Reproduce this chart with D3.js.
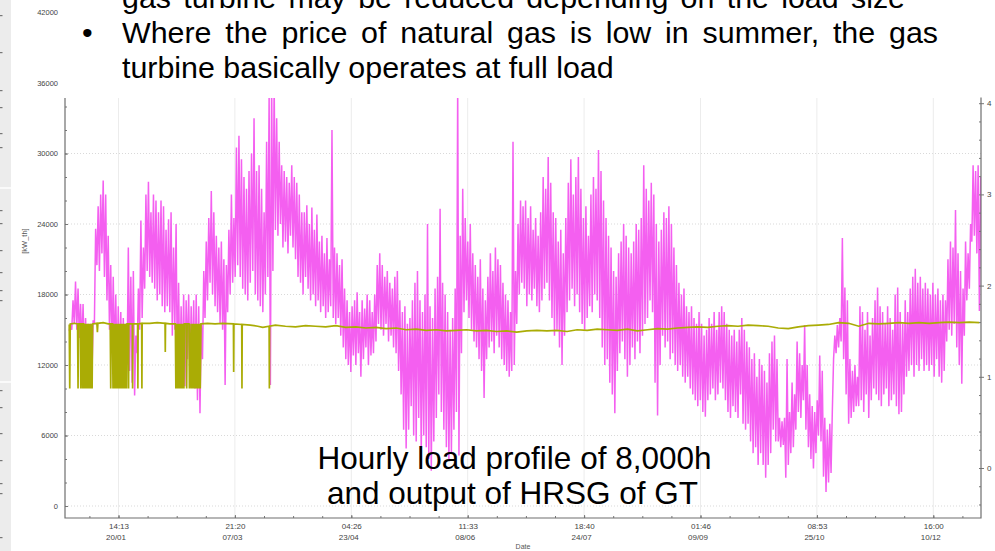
<!DOCTYPE html>
<html>
<head>
<meta charset="utf-8">
<script src="https://cdn.jsdelivr.net/npm/d3@7"></script>
<style>
  html, body { margin:0; padding:0; background:#fff; }
  svg { display:block; }
  .axis text { font-family:"Liberation Sans", Arial, sans-serif; fill:#444; }
  .axis .domain { display:none; }
  .axis line { stroke:#777; }
  .slide { font-family:"Liberation Sans", Arial, sans-serif; fill:#000; }
</style>
</head>
<body>
<div id="chart"></div>
<script>
// ====== données
const YEAR_START = new Date(2019, 0, 1);

// charge horaire : pic (midi) et creux (minuit) par jour, kW_th
const LOAD_PEAK = [
  15500,17500,19100,18500,17200,17200,16000,15500,15500,15800,
  23600,25500,26500,27700,26500,23000,20500,19500,18000,17000,
  16500,16000,15500,22000,19500,20000,14500,18500,24300,22000,
  26500,27600,25000,26500,26000,25000,26000,25500,23500,24400,
  25000,22000,24000,19000,17000,18000,17500,18000,17000,17500,
  18000,17000,15500,20000,22500,24500,26800,25000,23000,22000,
  22500,21000,20500,23500,26500,24500,30500,31500,29500,28000,
  27000,28500,30000,33000,28500,29000,27000,25000,31000,35000,
  36000,36000,33000,31000,29000,28500,28000,27500,29000,28000,
  27500,26500,25000,25000,25600,24000,25400,23500,24800,22500,
  23000,21500,22800,21000,32000,22000,21500,20500,21000,18500,
  17500,16500,17000,17500,18200,16500,17500,16800,18000,17500,
  16500,18000,20500,21500,20500,19500,20000,19000,18500,19500,
  20000,17500,16500,17000,15500,16000,17500,19000,20000,17500,
  16500,18000,24000,17000,16000,18500,19500,25300,19000,18000,
  16500,15000,16000,18500,36000,23000,27000,24500,22500,24000,
  21500,20500,19500,21000,18500,17500,19500,21500,20000,22000,
  21000,20500,19000,18000,17500,16500,31000,20000,24000,26000,
  25500,26000,24500,25500,23500,24500,23000,25000,28000,27000,
  29700,27500,25000,24500,22500,23500,21500,24500,27500,29500,
  26500,28000,29700,27000,24500,25500,23000,26500,28000,27000,
  30300,28500,26000,24500,23000,22000,20000,19500,21500,22500,
  24000,23000,22000,21500,22500,24000,23500,24500,29000,27000,
  26000,27500,26500,24000,22500,23500,25000,24500,25500,24000,
  22000,20500,19000,18000,18500,17000,16500,17000,16000,15500,
  16500,15500,14500,15000,16000,15500,16500,15000,16500,17000,
  16500,15500,15000,14500,15000,14000,15000,16000,15000,14000,
  13500,12500,13000,11000,12500,12000,11500,10500,13000,14000,
  14500,12500,7500,7200,7500,12500,8000,10500,9500,14000,
  13000,12000,15400,12000,9500,8500,8000,9000,12800,11500,
  7500,6500,7000,8000,14500,15400,16000,22800,18600,17500,
  12500,11500,12000,11000,17000,16500,15000,16500,14500,16000,
  17500,18600,17000,16500,15500,17000,16000,15000,18000,18600,
  16500,15500,17500,16500,18500,19500,20200,19000,19500,18500,
  19000,18500,18000,19000,18000,18500,17500,18000,17500,21000,
  22500,22000,25200,21500,20000,18500,22500,21500,24000,29000,
  28500,29000,28000
];
const LOAD_LOW = [
  14900,15000,15500,15000,14300,13500,12500,12000,11200,10900,
  15500,20500,20000,21500,19500,17500,15000,13000,12500,11500,
  11000,10400,10800,12000,11500,10500,9400,13000,15000,16000,
  18500,20000,19500,19000,18500,17500,18000,17000,16500,17000,
  16500,14500,15000,11000,10500,11000,10200,12500,10800,11500,
  10000,9000,7900,12500,16000,17500,19000,18000,17000,16500,
  15500,15000,10300,16500,18000,19000,19500,20500,19500,18500,
  18000,17500,19000,20000,18000,17500,17000,16500,18000,19500,
  10300,20000,23500,23000,24000,22000,22500,21500,23000,22000,
  21000,19500,19000,18000,19500,18500,17500,18000,17000,17500,
  16500,17000,16000,16500,17000,16000,15500,16000,14500,13500,
  12500,12000,11400,12800,12000,13000,11000,12500,13500,12000,
  12800,13000,14000,15500,15000,14500,15500,14000,14500,13500,
  13000,11500,9500,6500,4900,6500,8500,6000,5500,7500,
  4500,6000,5000,4000,3000,5500,7500,9500,8000,6500,
  5000,4000,4500,6500,8000,4300,13000,16500,17500,16000,
  15000,14000,13500,12500,11500,9200,12500,13500,14000,13000,
  14500,13500,12500,12000,11500,11000,11500,12000,15500,18000,
  19000,18500,17000,18000,17500,18500,17000,16500,17500,18500,
  19000,17500,16000,14500,15000,13500,12000,14500,16500,17500,
  18500,17000,18000,16500,15500,15000,16000,17000,16500,18000,
  17500,16000,13500,12000,12500,10500,9500,7900,11500,13000,
  14000,12500,11000,12000,13500,12500,14000,13000,14500,15500,
  16000,17500,16500,10500,7700,12000,14500,13500,14000,12500,
  13000,12000,11500,12000,11000,10500,11000,10000,9500,9000,
  8500,9000,8000,7600,9000,9500,10000,9000,9500,10500,
  10000,9000,8000,7500,8500,8000,7500,9500,7000,6500,
  7000,5500,4500,5000,3500,4500,3500,2400,3500,4500,
  6500,5500,5500,5000,5200,2400,3500,4500,5000,6500,
  8000,7500,9000,6500,5000,4000,3200,4500,6000,5500,
  2500,1200,2000,2800,12500,13000,13500,14000,12500,9500,
  7000,7500,8000,8500,8500,9000,8000,9500,7500,9000,
  10000,9500,9000,8500,9500,10000,8500,9000,9500,8500,
  7800,8000,9500,11000,11500,12000,11000,12000,11500,12500,
  11500,12000,11500,12000,11000,12500,11000,10500,11500,14000,
  15000,14500,15500,13500,12000,10400,14500,17500,18500,22500,
  23000,21500,16600
];

// sortie HRSG de la GT : [jour depuis le 1er janvier, kW_th]
const HRSG = [
  [0,15450],[0.2,10000],[0.4,15500],[2.0,15550],
  [3.3,15500],[3.5,10000],[3.7,15500],
  [4.4,15500],[4.6,10000],[4.8,15500],[5.1,15500],[5.3,10000],[5.5,15500],
  [5.7,15500],[5.9,10000],[6.1,15500],[6.3,10000],[6.5,15500],[6.7,10000],[6.9,15500],
  [7.1,10000],[7.3,15500],[7.5,10000],[7.7,15500],[7.9,10000],[8.1,15500],[8.3,10000],
  [8.5,15500],[8.7,10000],[8.9,15500],[9.1,10000],[9.3,15500],
  [11.0,15550],[11.2,14800],[11.4,15550],[13.5,15600],[15.5,15500],
  [16.3,15500],[16.5,10000],[16.7,15500],[17.2,15500],[17.4,10000],[17.6,15500],
  [18.0,10000],[18.3,15500],[18.6,10000],[18.9,15500],[19.2,10000],[19.5,15500],
  [19.8,10000],[20.1,15500],[20.4,10000],[20.7,15500],[21.0,10000],[21.3,15500],
  [21.6,10000],[21.9,15500],[22.2,10000],[22.5,15500],[22.8,10000],[23.0,15500],
  [23.5,15500],[23.6,10000],[23.7,15500],[25.1,15500],[25.2,10000],[25.3,15500],
  [27.2,15500],[27.3,10000],[27.4,15500],[28.8,15550],[28.9,10000],[29.0,15550],
  [32,15550],[35,15600],[38.1,15550],[38.2,13100],[38.3,15550],[40,15500],
  [42.2,15500],[42.4,10000],[42.6,15500],[42.8,10000],[43.0,15500],[43.2,10000],
  [43.4,15500],[43.6,10000],[43.8,15500],[44.0,10000],[44.2,15500],[44.4,10000],
  [44.6,15500],[44.8,10000],[45.0,15500],[45.2,10000],[45.4,15500],[45.6,10000],[45.8,15500],
  [46.5,15500],[46.7,10000],[46.9,15500],[47.6,15500],[47.8,10000],[48.0,15500],
  [48.5,10000],[48.8,15500],[49.1,10000],[49.4,15500],[49.7,10000],[50.0,15500],
  [50.3,10000],[50.6,15500],[50.9,10000],[51.2,15500],[51.5,10000],[51.8,15500],
  [52.1,10000],[52.4,15500],
  [55,15550],[58,15500],[61,15550],[65.3,15500],[65.4,11400],[65.5,15500],
  [68.6,15450],[68.7,10000],[68.8,15450],[72,15400],[75,15300],[77,15200],
  [79.5,15300],[79.6,10000],[79.7,15300],
  [82,15400],[86,15300],[90,15250],[94,15350],[98,15300],[102,15250],[106,15350],
  [110,15200],[114,15250],[118,15150],[122,15200],[126,15100],[130,15150],[134,15000],
  [138,15050],[142,14950],[146,15000],[150,14900],[154,14950],[158,15000],[162,14900],
  [166,14950],[170,14850],[174,14900],[178,14800],[182,14900],[186,14950],[190,14900],
  [194,14950],[198,14850],[202,15000],[206,14950],[210,15050],[214,15000],[218,14950],
  [222,15050],[226,14900],[230,15000],[234,15100],[238,15050],[242,15150],[246,15200],
  [250,15250],[254,15200],[258,15300],[262,15350],[266,15300],[270,15400],[274,15350],
  [278,15300],[282,15150],[286,15100],[290,15250],[294,15350],[298,15400],[302,15450],
  [306,15600],[310,15550],[314,15300],[318,15550],[322,15500],[326,15550],[330,15600],
  [334,15550],[338,15600],[342,15550],[346,15600],[350,15650],[354,15600],[358,15650],[362,15600]
];

// axes
const Y_TICKS  = [0,6000,12000,18000,24000,30000,36000,42000];
const Y2_TICKS = [0,1,2,3,4];
const X_TICKS  = ["2019-01-20 14:13","2019-03-07 21:20","2019-04-23 04:26","2019-06-08 11:33",
                  "2019-07-24 18:40","2019-09-09 01:46","2019-10-25 08:53","2019-12-10 16:00"];

// textes de la diapo
const BULLET_LINES = [
  "gas turbine may be reduced depending on the load size",
  "Where the price of natural gas is low in summer, the gas",
  "turbine basically operates at full load"
];
const NOTE_LINES = ["Hourly load profile of 8,000h", "and output of HRSG of GT"];

// ====== dimensions
const W = 995, H = 551;
const P = {l:65, r:981, t:98, b:518};

// ====== helpers
const parseT = d3.timeParse("%Y-%m-%d %H:%M");
const dayToDate = d => new Date(YEAR_START.getTime() + d * 864e5);
const fmtHM = d3.timeFormat("%H:%M");
const fmtDM = d3.timeFormat("%d/%m");
const fmtInt = d3.format("d");

const svg = d3.select("#chart").append("svg")
  .attr("width", W).attr("height", H).attr("viewBox", [0,0,W,H]);

// ====== scales
const x  = d3.scaleTime().domain([new Date(2018,11,30,7,30), new Date(2019,11,29,15,20)]).range([P.l, P.r]);
const y  = d3.scaleLinear().domain([0,36000]).range([506,83]);
const y2 = d3.scaleLinear().domain([0,4]).range([468,103.2]);

const xTicks = X_TICKS.map(parseT);

// bande grise à gauche (panneau de la diapo)
svg.append("rect").attr("x",0).attr("y",0).attr("width",11).attr("height",H).attr("fill","#ececec");
[188,382].forEach(v => svg.append("line").attr("x1",0).attr("x2",11).attr("y1",v).attr("y2",v)
  .attr("stroke","#fafafa").attr("stroke-width",2));
[15,52,90,107,133,147,210,223,250,272,290,300,390,407,433,460,483,493,537].forEach(v =>
  svg.append("rect").attr("x",0).attr("y",v).attr("width",2.5).attr("height",1.2).attr("fill","#777"));

// ====== grille
const grid = svg.append("g");
grid.selectAll("line.h").data(Y_TICKS.filter(v => y(v) > P.t)).join("line")
  .attr("x1", P.l).attr("x2", P.r).attr("y1", d => y(d)).attr("y2", d => y(d))
  .attr("stroke","#d9d9d9").attr("stroke-dasharray","1,2");
grid.selectAll("line.v").data(xTicks).join("line")
  .attr("x1", d => x(d)).attr("x2", d => x(d)).attr("y1", P.t).attr("y2", P.b)
  .attr("stroke","#ececec");

// ====== séries
svg.append("clipPath").attr("id","plotClip").append("rect")
  .attr("x",P.l).attr("y",P.t).attr("width",P.r-P.l).attr("height",P.b-P.t);

const loadPts = [];
LOAD_LOW.forEach((lo,i) => {
  loadPts.push([i, lo]);
  loadPts.push([i + 0.5, LOAD_PEAK[i]]);
});

const line = d3.line().x(d => x(dayToDate(d[0]))).y(d => y(d[1]));

const series = svg.append("g").attr("clip-path","url(#plotClip)");
series.append("path").datum(loadPts)
  .attr("d", line).attr("fill","none")
  .attr("stroke","#f45ff0").attr("stroke-width",1.5).attr("stroke-linejoin","miter");
series.append("path").datum(HRSG)
  .attr("d", line).attr("fill","none")
  .attr("stroke","#aaac05").attr("stroke-width",1.7);

// ====== axes
const gL = svg.append("g").attr("class","axis").attr("transform",`translate(${P.l},0)`)
  .call(d3.axisLeft(y).tickValues(Y_TICKS).tickSize(-3).tickPadding(7).tickFormat(fmtInt));
gL.selectAll("text").attr("font-size", 7.5);
svg.append("g").attr("class","axis").attr("transform",`translate(${P.l},0)`)
  .call(d3.axisLeft(y).tickValues(d3.range(0, 42001, 2000)).tickSize(-2).tickFormat(""));

const step = (xTicks[1] - xTicks[0]) / 4;
const xMinor = d3.range(+xTicks[0] - step, +x.domain()[1], step).map(t => new Date(t));
svg.append("g").attr("class","axis").attr("transform",`translate(0,${P.b})`)
  .call(d3.axisBottom(x).tickValues(xMinor).tickSize(-2).tickFormat(""));
const gB = svg.append("g").attr("class","axis").attr("transform",`translate(0,${P.b})`)
  .call(d3.axisBottom(x).tickValues(xTicks).tickSize(-3).tickFormat(""));
gB.selectAll(".tick").append("text").attr("font-size", 8).attr("text-anchor","middle")
  .each(function(d){
    const t = d3.select(this);
    t.append("tspan").attr("x",0).attr("y",10.5).text(fmtHM(d));
    t.append("tspan").attr("x",-3).attr("y",21.5).text(fmtDM(d));
  });

const gR = svg.append("g").attr("class","axis").attr("transform",`translate(${P.r},0)`)
  .call(d3.axisRight(y2).tickValues(Y2_TICKS).tickSize(3).tickPadding(3).tickFormat(fmtInt));
gR.selectAll("text").attr("font-size", 8);
svg.append("g").attr("class","axis").attr("transform",`translate(${P.r},0)`)
  .call(d3.axisRight(y2).tickValues(d3.range(-0.4, 4.01, 0.2)).tickSize(-2).tickFormat(""));

// cadre
svg.append("path")
  .attr("d", `M${P.l},${P.t}V${P.b}H${P.r}V${P.t - 1}`)
  .attr("fill","none").attr("stroke","#6f6f6f").attr("stroke-width",1.2);

svg.append("text").attr("class","axis")
  .attr("transform","translate(27,241) rotate(-90)")
  .attr("text-anchor","middle").attr("font-size",7.5).attr("fill","#555")
  .style("font-family","'Liberation Sans', Arial, sans-serif")
  .text("[kW_th]");
svg.append("text")
  .attr("x",523).attr("y",549).attr("text-anchor","middle").attr("font-size",7)
  .attr("fill","#555").style("font-family","'Liberation Sans', Arial, sans-serif")
  .text("Date");

// ====== zone de texte de la diapo (fond blanc par-dessus le graphique)
svg.append("rect").attr("x",63).attr("y",0).attr("width",W-63).attr("height",P.t - 0.5).attr("fill","#fff");

// lignes justifiées : on étire les espaces jusqu'à la largeur voulue
const LINE_RIGHT = [905, 938, null];
const tb = svg.append("g").attr("class","slide").attr("font-size",30.4);
BULLET_LINES.forEach((s,i) => {
  const t = tb.append("text").attr("x",122).attr("y",8.3 + 35*i).text(s);
  if (LINE_RIGHT[i]) {
    const gaps = s.split(" ").length - 1;
    const extra = (LINE_RIGHT[i] - 122) - t.node().getComputedTextLength();
    if (extra > 0) t.attr("word-spacing", extra / gaps);
  }
});
tb.append("text").attr("x",82).attr("y",43.3).text("•");

const nb = svg.append("g").attr("class","slide").attr("font-size",31.5).attr("text-anchor","middle");
nb.append("text").attr("x",514.5).attr("y",468.5).text(NOTE_LINES[0]);
nb.append("text").attr("x",512.5).attr("y",504).text(NOTE_LINES[1]);
</script>
</body>
</html>
